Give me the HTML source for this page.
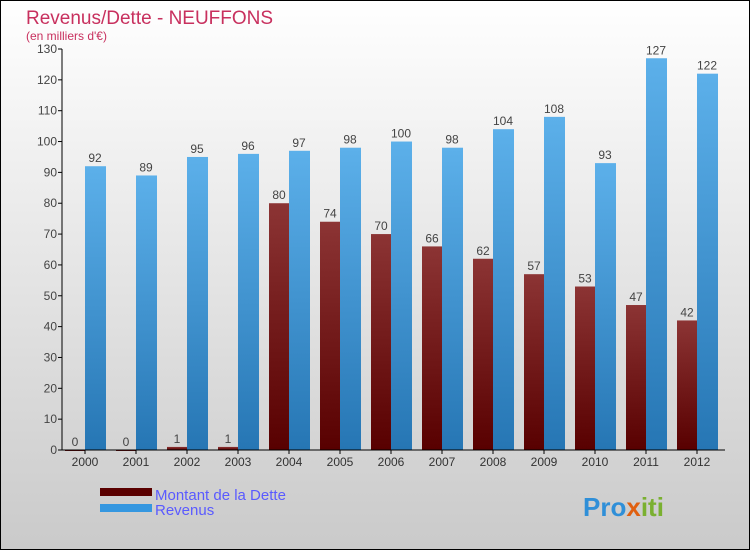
<!DOCTYPE html>
<html><head><meta charset="utf-8"><style>
body{margin:0;width:750px;height:550px;overflow:hidden;font-family:"Liberation Sans",sans-serif}
</style></head><body>
<svg width="750" height="550" xmlns="http://www.w3.org/2000/svg">
<defs>
<linearGradient id="bg" x1="0" y1="0" x2="0" y2="1"><stop offset="0" stop-color="#ffffff"/><stop offset="1" stop-color="#cacaca"/></linearGradient>
<linearGradient id="gd" x1="0" y1="0" x2="0" y2="1"><stop offset="0" stop-color="#8c3434"/><stop offset="1" stop-color="#580000"/></linearGradient>
<linearGradient id="gr" x1="0" y1="0" x2="0" y2="1"><stop offset="0" stop-color="#5cb0ea"/><stop offset="1" stop-color="#2676b4"/></linearGradient>
</defs>
<rect x="0" y="0" width="750" height="550" fill="url(#bg)" stroke="#000" stroke-width="2"/>
<text x="26" y="24" font-size="19" fill="#c8305e">Revenus/Dette - NEUFFONS</text>
<text x="26" y="40" font-size="12" fill="#c8305e">(en milliers d'€)</text>
<g id="plot"></g>
<rect x="100" y="488" width="52" height="8" fill="#5a0000"/>
<text x="155" y="500" font-size="15" fill="#5a5aff">Montant de la Dette</text>
<rect x="100" y="504" width="52" height="8" fill="#3597e0"/>
<text x="155" y="515" font-size="15" fill="#5a5aff">Revenus</text>
<text x="583" y="516" font-size="26" font-weight="bold"><tspan fill="#2f8fd8">Pro</tspan><tspan fill="#e06010">x</tspan><tspan fill="#7ab030">iti</tspan></text>
</svg>
<script>
const categories=["2000","2001","2002","2003","2004","2005","2006","2007","2008","2009","2010","2011","2012"];
const dette=[0,0,1,1,80,74,70,66,62,57,53,47,42];
const revenus=[92,89,95,96,97,98,100,98,104,108,93,127,122];
const yTicks=[0,10,20,30,40,50,60,70,80,90,100,110,120,130];
const NS="http://www.w3.org/2000/svg";
const g=document.getElementById('plot');
const y0=450,yTop=49,yMax=130,x0=62,step=51;
function y(v){return y0-(y0-yTop)*v/yMax;}
function cx(i){return 85+step*i;}
function mk(t,a,txt){const e=document.createElementNS(NS,t);for(const k in a)e.setAttribute(k,a[k]);if(txt!==undefined)e.textContent=txt;g.appendChild(e);return e;}
yTicks.forEach(v=>{
 const l=mk('line',{x1:x0-4,x2:x0,y1:y(v),y2:y(v),stroke:'#000'});
 
 
 const t=mk('text',{x:x0-5,y:y(v)+4,'font-size':12,'text-anchor':'end',fill:'#444'},v);
 
 
});
categories.forEach((c,i)=>{
 const d=mk('rect',{x:cx(i)-20,y:y(dette[i]),width:20,height:Math.max(y0-y(dette[i]),1),fill:'url(#gd)'});
 
 
 const r=mk('rect',{x:cx(i),y:y(revenus[i]),width:21,height:y0-y(revenus[i]),fill:'url(#gr)'});
 
 
 const dl=mk('text',{x:cx(i)-10,y:y(dette[i])-4,'font-size':12,'text-anchor':'middle',fill:'#444'},dette[i]);
 
 
 const rl=mk('text',{x:cx(i)+10,y:y(revenus[i])-4,'font-size':12,'text-anchor':'middle',fill:'#444'},revenus[i]);
 
 
 const xl=mk('text',{x:cx(i),y:466,'font-size':12,'text-anchor':'middle',fill:'#333'},c);
 
 
 const xt=mk('line',{x1:cx(i),x2:cx(i),y1:y0,y2:y0+4,stroke:'#000'});
 
 
});
const ya=mk('line',{x1:x0,x2:x0,y1:yTop,y2:y0,stroke:'#000'});


const xa=mk('line',{x1:x0,x2:725,y1:y0,y2:y0,stroke:'#000'});


</script>
</body></html>
